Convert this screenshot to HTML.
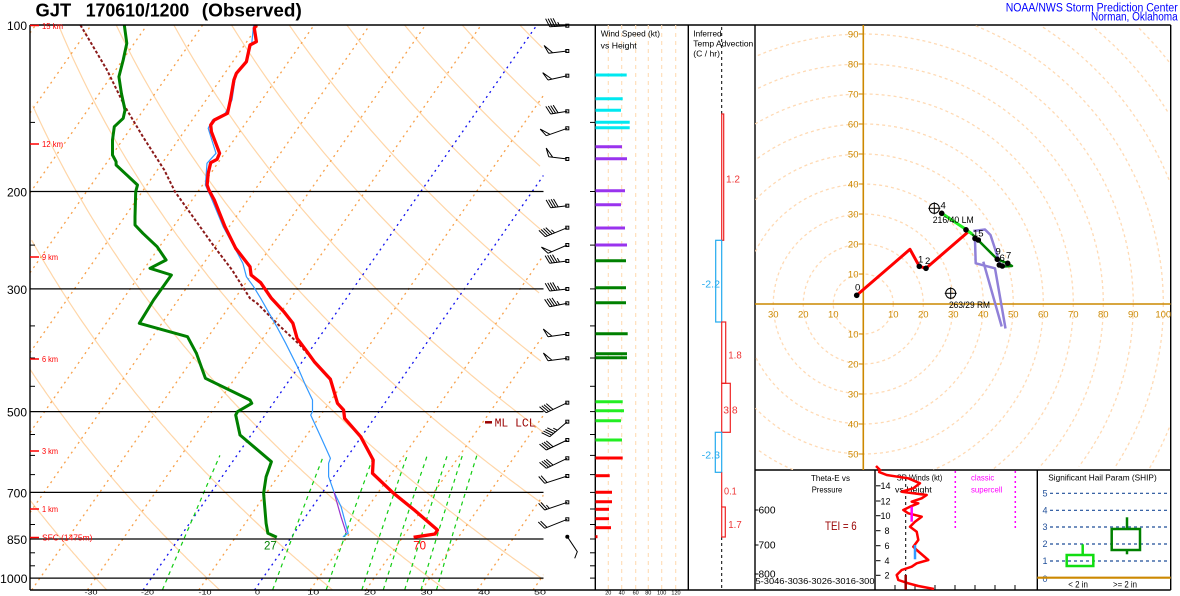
<!DOCTYPE html>
<html><head><meta charset="utf-8"><style>html,body{margin:0;padding:0;background:#fff;width:1180px;height:596px;overflow:hidden;}svg{display:block;overflow:hidden;}</style></head>
<body>
<svg id="s" width="1180" height="596" overflow="hidden" xmlns="http://www.w3.org/2000/svg" font-family="Liberation Sans, Arial, sans-serif">
<defs>
<clipPath id="cs"><rect x="30" y="25" width="513.5" height="565"/></clipPath>
<clipPath id="ch"><rect x="755" y="25" width="415.7" height="445"/></clipPath>
<clipPath id="csr"><rect x="875" y="470" width="162.3" height="120"/></clipPath>
</defs>
<rect width="1180" height="596" fill="#fff"/>

<!-- Skew-T background -->
<g clip-path="url(#cs)">
 <g id="adi" fill="none" stroke="#ffd6a8" stroke-width="1.2"></g>
 <g fill="none" stroke="#f7a04a" stroke-width="1.3" stroke-dasharray="2,4">
  <line x1="30" y1="33" x2="35.6" y2="25"/>
  <line x1="30" y1="113" x2="91.3" y2="25"/>
  <line x1="30" y1="192.9" x2="147" y2="25"/>
  <line x1="30" y1="272.8" x2="202.7" y2="25"/>
  <line x1="30" y1="352.7" x2="258.4" y2="25"/>
  <line x1="30" y1="432.6" x2="314.1" y2="25"/>
  <line x1="30" y1="512.5" x2="369.8" y2="25"/>
  <line x1="31.7" y1="590" x2="425.5" y2="25"/>
  <line x1="87.4" y1="590" x2="481.2" y2="25"/>
  <line x1="198.8" y1="590" x2="543.5" y2="95.4"/>
  <line x1="310.2" y1="590" x2="543.5" y2="255.3"/>
  <line x1="365.9" y1="590" x2="543.5" y2="335.2"/>
  <line x1="421.6" y1="590" x2="543.5" y2="415.1"/>
  <line x1="477.3" y1="590" x2="543.5" y2="495"/>
  <line x1="533" y1="590" x2="543.5" y2="574.9"/>
 </g>
 <g fill="none" stroke="#1010ee" stroke-width="1.3" stroke-dasharray="2,4">
  <line x1="143.1" y1="590" x2="536.9" y2="25"/>
  <line x1="254.5" y1="590" x2="543.5" y2="175.4"/>
 </g>
 <g id="mix" fill="none" stroke="#11cc11" stroke-width="1.2" stroke-dasharray="4,4"></g>

 <!-- pressure lines -->
 <g stroke="#000" stroke-width="1.2">
  <line x1="30" y1="191.5" x2="543.5" y2="191.5"/>
  <line x1="30" y1="288.9" x2="543.5" y2="288.9"/>
  <line x1="30" y1="411.6" x2="543.5" y2="411.6"/>
  <line x1="30" y1="492.4" x2="543.5" y2="492.4"/>
  <line x1="30" y1="539" x2="543.5" y2="539"/>
  <line x1="30" y1="578.1" x2="543.5" y2="578.1"/>
 </g>

 <!-- parcel -->
 <polyline fill="none" stroke="#8b1a1a" stroke-width="2" stroke-dasharray="3,2" points="80.4,25 107,70 125,106.7 142.9,136.7 164.3,170 175,191.7 192.9,216.7 214.3,246.7 232.1,270 250,298.3 257.1,303.3 278.6,325 300,345 314.3,361.7 328.6,378.3"/>
 <!-- wetbulb -->
 <polyline fill="none" stroke="#3399ff" stroke-width="1.2" points="253.6,25 251.8,43 246.4,61.7 235.7,75 232,100 224.3,115 212.5,120 208.2,128.3 216,153.3 207,163.3 205.4,185 210.7,196.7 223.2,226.7 234,246.7 242.9,263.3 246.4,276.7 253.6,286.7 260.7,298.3 276.8,326.7 285.7,343.3 298.2,368.3 305.4,385 312.5,400 312.5,411.7 310.7,415 321.4,438.3 330.4,458.3 328.6,463.3 328.6,476.7 333.9,491.7 341.1,506.7 348.2,533.3 342.9,536.7"/>
 <polyline fill="none" stroke="#9933cc" stroke-width="1.2" points="333.9,491.7 341,516.7 346.4,533.3"/>
 <!-- temperature -->
 <polyline fill="none" stroke="#ff0000" stroke-width="3.3" stroke-linejoin="round" points="256.4,25 254.3,28.3 256.4,41.7 250,45 246.4,61.7 236.4,73.3 233.9,80 230.4,100 227.5,113.3 214.3,120 210.7,125 211.4,131.7 219.6,153.3 217.1,159.3 210.7,162.7 208.2,173.3 207.1,185 208.9,190 214.3,200 225,226.7 235.7,248.3 250,266.7 251.1,275 260.7,282.7 271.4,298.3 283.9,311.7 292.9,323.3 297.1,338.3 307.1,351.7 314.3,361.7 330.4,379.3 337.5,403.3 343.6,410 344.6,418.3 360.7,436.7 373.2,460 372.5,473.3 392.9,492.7 414.3,510 437.5,530 435,534 413.6,537.3"/>
 <!-- dewpoint -->
 <polyline fill="none" stroke="#008000" stroke-width="3" stroke-linejoin="round" points="124.3,25 126.8,43.3 123.2,60 118.9,76.7 121.4,93.3 125,110 123.2,118.3 114.3,126.7 112.5,140 112.5,155 116.1,161.7 116.1,165 137.5,185 135.7,191.7 135,216.7 135,225 142.9,233.3 157.1,246.7 166.1,260 150,268.3 171.4,275 153.6,300 139.3,323.3 187.5,336.7 196.4,353.3 205.4,378.3 250,400 251.8,403.3 237.5,411.7 235.7,415 240,435 271.4,461.7 266.1,476.7 263.6,493.3 266.1,523.3 267.9,533.3 276.8,537.3"/>
</g>

<!-- frame lines -->
<g stroke="#000" stroke-width="1.4">
 <line x1="30" y1="25" x2="1170.7" y2="25"/>
 <line x1="30" y1="25" x2="30" y2="590"/>
 <line x1="30" y1="590" x2="1170.7" y2="590"/>
 <line x1="595.3" y1="25" x2="595.3" y2="590"/>
 <line x1="688.3" y1="25" x2="688.3" y2="590"/>
 <line x1="755" y1="25" x2="755" y2="590"/>
 <line x1="1170.7" y1="25" x2="1170.7" y2="590"/>
 <line x1="755" y1="470" x2="1170.7" y2="470"/>
 <line x1="875" y1="470" x2="875" y2="590"/>
 <line x1="1037.3" y1="470" x2="1037.3" y2="590"/>
</g>

<!-- left axis ticks -->
<g stroke="#000" stroke-width="1">
 <line x1="30" y1="122.4" x2="35" y2="122.4"/><line x1="30" y1="245.1" x2="35" y2="245.1"/>
 <line x1="30" y1="325.9" x2="35" y2="325.9"/><line x1="30" y1="358" x2="35" y2="358"/>
 <line x1="30" y1="386.3" x2="35" y2="386.3"/><line x1="30" y1="434.5" x2="35" y2="434.5"/>
 <line x1="30" y1="455.4" x2="35" y2="455.4"/><line x1="30" y1="474.6" x2="35" y2="474.6"/>
 <line x1="30" y1="509" x2="35" y2="509"/><line x1="30" y1="524.5" x2="35" y2="524.5"/>
 <line x1="30" y1="552.8" x2="35" y2="552.8"/><line x1="30" y1="565.8" x2="35" y2="565.8"/>
</g>
<!-- wind panel ticks -->
<g stroke="#000" stroke-width="1">
 <line x1="590" y1="122.4" x2="595" y2="122.4"/><line x1="590" y1="191.5" x2="595" y2="191.5"/>
 <line x1="590" y1="245.1" x2="595" y2="245.1"/><line x1="590" y1="288.9" x2="595" y2="288.9"/>
 <line x1="590" y1="325.9" x2="595" y2="325.9"/><line x1="590" y1="358" x2="595" y2="358"/>
 <line x1="590" y1="386.3" x2="595" y2="386.3"/><line x1="590" y1="411.6" x2="595" y2="411.6"/>
 <line x1="590" y1="434.5" x2="595" y2="434.5"/><line x1="590" y1="455.4" x2="595" y2="455.4"/>
 <line x1="590" y1="474.6" x2="595" y2="474.6"/><line x1="590" y1="492.4" x2="595" y2="492.4"/>
 <line x1="590" y1="509" x2="595" y2="509"/><line x1="590" y1="524.5" x2="595" y2="524.5"/>
 <line x1="590" y1="539" x2="595" y2="539"/><line x1="590" y1="552.8" x2="595" y2="552.8"/>
 <line x1="590" y1="565.8" x2="595" y2="565.8"/><line x1="590" y1="578.1" x2="595" y2="578.1"/>
</g>

<!-- km labels -->
<g stroke="#ff0000" stroke-width="1.5">
 <line x1="30" y1="25.5" x2="39" y2="25.5"/><line x1="30" y1="144" x2="39" y2="144"/>
 <line x1="30" y1="257" x2="39" y2="257"/><line x1="30" y1="359" x2="39" y2="359"/>
 <line x1="30" y1="451" x2="39" y2="451"/><line x1="30" y1="509" x2="39" y2="509"/>
 <line x1="30" y1="537.5" x2="39" y2="537.5"/>
</g>
<g fill="#ff0000" font-size="8.5">
 <text x="42" y="29" textLength="21" lengthAdjust="spacingAndGlyphs">15 km</text>
 <text x="42" y="147" textLength="21" lengthAdjust="spacingAndGlyphs">12 km</text>
 <text x="42" y="260" textLength="16" lengthAdjust="spacingAndGlyphs">9 km</text>
 <text x="42" y="362" textLength="16" lengthAdjust="spacingAndGlyphs">6 km</text>
 <text x="42" y="454" textLength="16" lengthAdjust="spacingAndGlyphs">3 km</text>
 <text x="42" y="512" textLength="16" lengthAdjust="spacingAndGlyphs">1 km</text>
 <text x="42" y="540.5" textLength="50.4" lengthAdjust="spacingAndGlyphs">SFC (1475m)</text>
</g>

<!-- pressure labels -->
<g fill="#000" font-size="12">
 <text x="7" y="30" textLength="20" lengthAdjust="spacingAndGlyphs">100</text>
 <text x="7" y="196.5" textLength="20" lengthAdjust="spacingAndGlyphs">200</text>
 <text x="7" y="294" textLength="20" lengthAdjust="spacingAndGlyphs">300</text>
 <text x="7" y="416.6" textLength="20" lengthAdjust="spacingAndGlyphs">500</text>
 <text x="7" y="497.4" textLength="20" lengthAdjust="spacingAndGlyphs">700</text>
 <text x="7" y="544" textLength="20" lengthAdjust="spacingAndGlyphs">850</text>
 <text x="0" y="583" textLength="27.5" lengthAdjust="spacingAndGlyphs">1000</text>
</g>
<!-- temperature axis labels (cut at bottom edge) -->
<g fill="#000" font-size="6" text-anchor="middle">
 <text x="91" y="594.6" textLength="13" lengthAdjust="spacingAndGlyphs">-30</text>
 <text x="147.5" y="594.6" textLength="13" lengthAdjust="spacingAndGlyphs">-20</text>
 <text x="205" y="594.6" textLength="13" lengthAdjust="spacingAndGlyphs">-10</text>
 <text x="257.5" y="594.6" textLength="5" lengthAdjust="spacingAndGlyphs">0</text>
 <text x="313.3" y="594.6" textLength="12" lengthAdjust="spacingAndGlyphs">10</text>
 <text x="370" y="594.6" textLength="12" lengthAdjust="spacingAndGlyphs">20</text>
 <text x="426.7" y="594.6" textLength="12" lengthAdjust="spacingAndGlyphs">30</text>
 <text x="484" y="594.6" textLength="12" lengthAdjust="spacingAndGlyphs">40</text>
 <text x="540" y="594.6" textLength="12" lengthAdjust="spacingAndGlyphs">50</text>
</g>

<!-- title -->
<g font-size="18.5" font-weight="bold" fill="#000">
 <text x="35.5" y="16.7" textLength="35.7" lengthAdjust="spacingAndGlyphs">GJT</text>
 <text x="85.7" y="16.7" textLength="103.6" lengthAdjust="spacingAndGlyphs">170610/1200</text>
 <text x="201.8" y="16.7" textLength="100" lengthAdjust="spacingAndGlyphs">(Observed)</text>
</g>
<g font-size="11.5" fill="#0000ff">
 <text x="1005.7" y="11.7" textLength="172" lengthAdjust="spacingAndGlyphs">NOAA/NWS Storm Prediction Center</text>
 <text x="1091" y="20.7" textLength="86.7" lengthAdjust="spacingAndGlyphs">Norman, Oklahoma</text>
</g>

<!-- labels on skewT -->
<text x="270.4" y="549.3" font-size="11.5" fill="#008000" text-anchor="middle">27</text>
<text x="419.6" y="549.3" font-size="11.5" fill="#ff0000" text-anchor="middle">70</text>
<line x1="485" y1="422.3" x2="492" y2="422.3" stroke="#990000" stroke-width="2.5"/>
<text x="494.6" y="426.3" font-family="Liberation Mono, monospace" font-size="11.5" fill="#990000" textLength="41" lengthAdjust="spacingAndGlyphs">ML LCL</text>

<!-- wind barbs -->
<g id="barbs" fill="none" stroke="#000" stroke-width="1"></g>
<circle cx="567.3" cy="536.7" r="2" fill="#000"/>
<polyline fill="none" stroke="#000" stroke-width="1" points="567.3,536.7 577.3,551.7 574.7,558.3"/>

<!-- wind speed panel -->
<g stroke="#ffdcb4" stroke-width="1.1" stroke-dasharray="4,4">
 <line x1="608.3" y1="25" x2="608.3" y2="590"/><line x1="621.7" y1="25" x2="621.7" y2="590"/>
 <line x1="635.7" y1="25" x2="635.7" y2="590"/><line x1="648.3" y1="25" x2="648.3" y2="590"/>
 <line x1="661.7" y1="25" x2="661.7" y2="590"/><line x1="675.7" y1="25" x2="675.7" y2="590"/>
</g>
<g font-size="8.5" fill="#000">
 <text x="600.7" y="36.7" textLength="59.3" lengthAdjust="spacingAndGlyphs">Wind Speed (kt)</text>
 <text x="600.7" y="48.3" textLength="36" lengthAdjust="spacingAndGlyphs">vs Height</text>
 <text x="693.3" y="36.7" textLength="28.3" lengthAdjust="spacingAndGlyphs">Inferred</text>
 <text x="693.3" y="46.7" textLength="60" lengthAdjust="spacingAndGlyphs">Temp Advection</text>
 <text x="693.3" y="56.7" textLength="26.7" lengthAdjust="spacingAndGlyphs">(C / hr)</text>
</g>
<g font-size="5.5" fill="#000" text-anchor="middle">
 <text x="608.3" y="594.6">20</text><text x="621.7" y="594.6">40</text><text x="635.7" y="594.6">60</text>
 <text x="648.3" y="594.6">80</text><text x="661.7" y="594.6">100</text><text x="676" y="594.6">120</text>
</g>
<g stroke-width="3" stroke-linecap="butt">
 <g stroke="#00e8f0">
  <line x1="595.5" y1="75" x2="626.7" y2="75"/><line x1="595.5" y1="98.7" x2="622.7" y2="98.7"/>
  <line x1="595.5" y1="110.3" x2="621" y2="110.3"/><line x1="595.5" y1="122.3" x2="629.7" y2="122.3"/>
  <line x1="595.5" y1="127.7" x2="629.7" y2="127.7"/>
 </g>
 <g stroke="#9933ee">
  <line x1="595.5" y1="146.7" x2="622" y2="146.7"/><line x1="595.5" y1="158.7" x2="627" y2="158.7"/>
  <line x1="595.5" y1="190.7" x2="625" y2="190.7"/><line x1="595.5" y1="204.7" x2="621" y2="204.7"/>
  <line x1="595.5" y1="228" x2="625" y2="228"/><line x1="595.5" y1="245" x2="627" y2="245"/>
 </g>
 <g stroke="#008000">
  <line x1="595.5" y1="260.7" x2="626" y2="260.7"/><line x1="595.5" y1="287.7" x2="626" y2="287.7"/>
  <line x1="595.5" y1="302.7" x2="626" y2="302.7"/><line x1="595.5" y1="333.7" x2="627.7" y2="333.7"/>
  <line x1="595.5" y1="353.7" x2="627" y2="353.7"/><line x1="595.5" y1="357.7" x2="627" y2="357.7"/>
 </g>
 <g stroke="#22ee22">
  <line x1="595.5" y1="401.7" x2="622.7" y2="401.7"/><line x1="595.5" y1="410.7" x2="624" y2="410.7"/>
  <line x1="595.5" y1="420.7" x2="621" y2="420.7"/><line x1="595.5" y1="440" x2="622" y2="440"/>
 </g>
 <g stroke="#ff0000">
  <line x1="595.5" y1="458" x2="622.7" y2="458"/><line x1="595.5" y1="475.7" x2="609.7" y2="475.7"/>
  <line x1="595.5" y1="492.3" x2="612" y2="492.3"/><line x1="595.5" y1="501.7" x2="612" y2="501.7"/>
  <line x1="595.5" y1="509.3" x2="609" y2="509.3"/><line x1="595.5" y1="518.7" x2="609" y2="518.7"/>
  <line x1="595.5" y1="527.7" x2="611" y2="527.7"/><line x1="595.5" y1="536.7" x2="597.5" y2="536.7"/>
 </g>
</g>

<!-- temp advection -->
<g stroke="#000" stroke-width="1" stroke-dasharray="3,3">
 <line x1="721.7" y1="27" x2="721.7" y2="114"/><line x1="721.7" y1="537" x2="721.7" y2="590"/>
</g>
<g fill="none" stroke-width="1.2">
 <rect x="721.7" y="114" width="2" height="126.3" stroke="#ee2222"/>
 <rect x="715.7" y="240.3" width="6" height="81.7" stroke="#22aaee"/>
 <rect x="721.7" y="322" width="4" height="61.3" stroke="#ee2222"/>
 <rect x="721.7" y="383.3" width="8.6" height="49" stroke="#ee2222"/>
 <rect x="715.3" y="432.3" width="6.4" height="40" stroke="#22aaee"/>
 <line x1="721.7" y1="472.3" x2="721.7" y2="507" stroke="#ee2222"/>
 <rect x="721.7" y="507" width="3.6" height="30" stroke="#ee2222"/>
</g>
<g font-size="10.5">
 <text x="726" y="182.7" fill="#ee3333" textLength="14" lengthAdjust="spacingAndGlyphs">1.2</text>
 <text x="701.7" y="287.3" fill="#22aaee" textLength="18.3" lengthAdjust="spacingAndGlyphs">-2.2</text>
 <text x="728.3" y="358.3" fill="#ee3333" textLength="13.4" lengthAdjust="spacingAndGlyphs">1.8</text>
 <text x="723.3" y="413.3" fill="#ee3333" textLength="14.4" lengthAdjust="spacingAndGlyphs">3.8</text>
 <text x="701.7" y="458.7" fill="#22aaee" textLength="18.3" lengthAdjust="spacingAndGlyphs">-2.3</text>
 <text x="724" y="494.7" fill="#ee3333" textLength="12.7" lengthAdjust="spacingAndGlyphs">0.1</text>
 <text x="728.3" y="528" fill="#ee3333" textLength="13.4" lengthAdjust="spacingAndGlyphs">1.7</text>
</g>

<!-- hodograph -->
<g clip-path="url(#ch)">
 <g id="rings" fill="none" stroke="#ffdab4" stroke-width="1.3" stroke-dasharray="3,3"></g>
 <g stroke="#cc8800" stroke-width="1.6">
  <line x1="863.3" y1="25" x2="863.3" y2="470"/>
  <line x1="755" y1="304" x2="1170.7" y2="304"/>
 </g>
 <g stroke="#cc8800" stroke-width="1">
  <line x1="859" y1="34" x2="863" y2="34"/><line x1="859" y1="64" x2="863" y2="64"/><line x1="859" y1="94" x2="863" y2="94"/>
  <line x1="859" y1="124" x2="863" y2="124"/><line x1="859" y1="154" x2="863" y2="154"/><line x1="859" y1="184" x2="863" y2="184"/>
  <line x1="859" y1="214" x2="863" y2="214"/><line x1="859" y1="244" x2="863" y2="244"/><line x1="859" y1="274" x2="863" y2="274"/>
  <line x1="859" y1="334" x2="863" y2="334"/><line x1="859" y1="364" x2="863" y2="364"/><line x1="859" y1="394" x2="863" y2="394"/>
  <line x1="859" y1="424" x2="863" y2="424"/><line x1="859" y1="454" x2="863" y2="454"/>
 </g>
 <g fill="#cc8800" font-size="9.5" text-anchor="end">
  <text x="858.5" y="37.3">90</text><text x="858.5" y="67.3">80</text><text x="858.5" y="97.3">70</text>
  <text x="858.5" y="127.3">60</text><text x="858.5" y="157.3">50</text><text x="858.5" y="187.3">40</text>
  <text x="858.5" y="217.3">30</text><text x="858.5" y="247.3">20</text><text x="858.5" y="277.3">10</text>
  <text x="858.5" y="337.3">10</text><text x="858.5" y="367.3">20</text><text x="858.5" y="397.3">30</text>
  <text x="858.5" y="427.3">40</text><text x="858.5" y="457.3">50</text>
 </g>
 <g fill="#cc8800" font-size="9.5" text-anchor="middle">
  <text x="773.3" y="317.5">30</text><text x="803.3" y="317.5">20</text><text x="833.3" y="317.5">10</text>
  <text x="893.3" y="317.5">10</text><text x="923.3" y="317.5">20</text><text x="953.3" y="317.5">30</text>
  <text x="983.3" y="317.5">40</text><text x="1013.3" y="317.5">50</text><text x="1043.3" y="317.5">60</text>
  <text x="1073.3" y="317.5">70</text><text x="1103.3" y="317.5">80</text><text x="1133.3" y="317.5">90</text>
  <text x="1163.3" y="317.5">100</text>
 </g>
 <!-- traces -->
 <g fill="none" stroke-linejoin="round">
  <path d="M973.3,231 L985,229.5 L990.5,235 L1000,264 M975,240 L975.7,263.3 L995,268.3 L1005.5,328.5 M1001.7,326.5 L983.3,261.7" stroke="#9080d8" stroke-width="2.5"/>
  <polyline points="856.7,295.3 910,249.3 919.3,266.3 926,268.3 968.3,231.7 966,229.8" stroke="#ff0000" stroke-width="3"/>
  <polyline points="941.7,213.3 965.7,229.3 972,234" stroke="#22ee22" stroke-width="3"/>
  <polyline points="972,234 997.3,259.3 1007.7,263.3 1012,266 1003,266.5" stroke="#008000" stroke-width="2.5"/>
 </g>
 <g fill="#000">
  <circle cx="856.7" cy="295.3" r="2.8"/><circle cx="919.3" cy="266.3" r="2.8"/><circle cx="926" cy="268.3" r="2.8"/>
  <circle cx="966" cy="229.8" r="2.8"/><circle cx="941.7" cy="213.3" r="2.8"/><circle cx="975" cy="238.5" r="2.8"/>
  <circle cx="978.3" cy="240" r="2.8"/><circle cx="997.3" cy="259.3" r="2.8"/><circle cx="999.3" cy="265" r="2.8"/>
  <circle cx="1002.3" cy="266" r="2.8"/><circle cx="1007.7" cy="263.3" r="2.8"/>
 </g>
 <g fill="none" stroke="#000" stroke-width="1">
  <circle cx="934.3" cy="208.3" r="5"/><line x1="928.3" y1="208.3" x2="940.3" y2="208.3"/><line x1="934.3" y1="202.3" x2="934.3" y2="214.3"/>
  <circle cx="950.7" cy="293.3" r="5"/><line x1="944.7" y1="293.3" x2="956.7" y2="293.3"/><line x1="950.7" y1="287.3" x2="950.7" y2="299.3"/>
 </g>
 <g fill="#000" font-size="9.5">
  <text x="855" y="290.7">0</text><text x="918" y="262.3">1</text><text x="925" y="264">2</text>
  <text x="940.5" y="208.3">4</text><text x="973" y="236.5">15</text><text x="995.5" y="254.5">9</text>
  <text x="999.5" y="261">6</text><text x="1006" y="258.3">7</text>
  <text x="932.7" y="223" textLength="41" lengthAdjust="spacingAndGlyphs">216/40 LM</text>
  <text x="949" y="308" textLength="41" lengthAdjust="spacingAndGlyphs">263/29 RM</text>
 </g>
</g>

<!-- bottom panels: theta-E -->
<g font-size="8.5" fill="#000">
 <text x="811" y="481" textLength="39" lengthAdjust="spacingAndGlyphs">Theta-E vs</text>
 <text x="811.7" y="492.7" textLength="30.6" lengthAdjust="spacingAndGlyphs">Pressure</text>
</g>
<g stroke="#000" stroke-width="1">
 <line x1="755" y1="510" x2="758.5" y2="510"/><line x1="755" y1="545" x2="758.5" y2="545"/><line x1="755" y1="574" x2="758.5" y2="574"/>
</g>
<g font-size="10" fill="#000">
 <text x="758.5" y="513.3" textLength="17" lengthAdjust="spacingAndGlyphs">600</text>
 <text x="758.5" y="548.3" textLength="17" lengthAdjust="spacingAndGlyphs">700</text>
 <text x="758.5" y="577.3" textLength="17" lengthAdjust="spacingAndGlyphs">800</text>
 <text x="755.5" y="584" font-size="8.5" textLength="119" lengthAdjust="spacingAndGlyphs">5-3046-3036-3026-3016-300</text>
</g>
<text x="825" y="530" font-size="11.5" fill="#990000" textLength="31.7" lengthAdjust="spacingAndGlyphs">TEI = 6</text>

<!-- SR winds -->
<g stroke="#ff00ff" stroke-width="1.5" stroke-dasharray="2,3">
 <line x1="955.3" y1="471" x2="955.3" y2="530"/><line x1="1015.3" y1="471" x2="1015.3" y2="530"/>
</g>
<line x1="905.7" y1="478" x2="905.7" y2="590" stroke="#000" stroke-width="1" stroke-dasharray="3,3"/>
<g font-size="8.5" fill="#000">
 <text x="896.7" y="480.7" textLength="45.6" lengthAdjust="spacingAndGlyphs">SR Winds (kt)</text>
 <text x="895" y="492.7" textLength="36.7" lengthAdjust="spacingAndGlyphs">vs Height</text>
</g>
<g font-size="8.5" fill="#ff00ff">
 <text x="971" y="480.7" textLength="23.3" lengthAdjust="spacingAndGlyphs">classic</text>
 <text x="971" y="492.7" textLength="31.3" lengthAdjust="spacingAndGlyphs">supercell</text>
</g>
<g stroke="#000" stroke-width="1">
 <line x1="876" y1="485.8" x2="880.5" y2="485.8"/><line x1="876" y1="501" x2="880.5" y2="501"/>
 <line x1="876" y1="515.7" x2="880.5" y2="515.7"/><line x1="876" y1="530.7" x2="880.5" y2="530.7"/>
 <line x1="876" y1="545.7" x2="880.5" y2="545.7"/><line x1="876" y1="560.7" x2="880.5" y2="560.7"/>
 <line x1="876" y1="575.3" x2="880.5" y2="575.3"/>
 <line x1="895" y1="585" x2="895" y2="590"/><line x1="915" y1="585" x2="915" y2="590"/>
 <line x1="935" y1="585" x2="935" y2="590"/><line x1="955" y1="585" x2="955" y2="590"/>
 <line x1="975" y1="585" x2="975" y2="590"/><line x1="995" y1="585" x2="995" y2="590"/>
 <line x1="1015" y1="585" x2="1015" y2="590"/>
</g>
<g font-size="9" fill="#000" text-anchor="end">
 <text x="890.5" y="489">14</text><text x="890.5" y="504.3">12</text><text x="890.5" y="519">10</text>
 <text x="889.5" y="534">8</text><text x="889.5" y="549">6</text><text x="889.5" y="564">4</text><text x="889.5" y="578.6">2</text>
</g>
<g clip-path="url(#csr)">
 <polyline fill="none" stroke="#ff0000" stroke-width="2.5" stroke-linejoin="round" points="878.3,471.7 886.7,475 908.3,478.3 920,483.3 913.3,488.3 901.7,491.7 926.7,495 921.7,498.3 911.7,501.7 918.3,503.3 910,506.7 903.3,510 908.3,513.3 921.7,516.7 915,521.7 910,526.7 916.7,531.7 918.3,540 913.3,546.7 916.7,550 928.3,560 916.7,563.3 911.7,566.7 901.7,570 896.7,575 898.3,580 908.3,583.3 918.3,586 934,589"/>
</g>
<g stroke-width="2.5">
 <line x1="911.7" y1="506.7" x2="911.7" y2="521.7" stroke="#ff00ff"/>
 <line x1="915" y1="545" x2="915" y2="559.3" stroke="#3399ff"/>
 <line x1="905.7" y1="575" x2="905.7" y2="589.5" stroke="#990000"/>
</g>
<polyline fill="none" stroke="#ff0000" stroke-width="2.5" points="876,466 880,470 878.3,471.7"/>

<!-- SHIP -->
<text x="1048.3" y="480.7" font-size="8.5" fill="#000" textLength="108.4" lengthAdjust="spacingAndGlyphs">Significant Hail Param (SHIP)</text>
<g stroke="#1f4e99" stroke-width="1.2" stroke-dasharray="3,3">
 <line x1="1050" y1="493.3" x2="1170" y2="493.3"/><line x1="1050" y1="510.3" x2="1170" y2="510.3"/>
 <line x1="1050" y1="527" x2="1170" y2="527"/><line x1="1050" y1="544" x2="1170" y2="544"/>
 <line x1="1050" y1="561" x2="1170" y2="561"/>
</g>
<g font-size="9" fill="#1f4e99" text-anchor="middle">
 <text x="1045" y="496.5">5</text><text x="1045" y="513.5">4</text><text x="1045" y="530.2">3</text>
 <text x="1045" y="547.2">2</text><text x="1045" y="564.2">1</text><text x="1045" y="582">0</text>
</g>
<line x1="1037.3" y1="577.7" x2="1170.7" y2="577.7" stroke="#cc8800" stroke-width="2.2"/>
<g fill="none" stroke-width="2.5">
 <rect x="1066.7" y="555" width="26.6" height="11" stroke="#11dd11"/>
 <line x1="1082.7" y1="544.3" x2="1082.7" y2="555" stroke="#11dd11"/>
 <rect x="1111.7" y="529" width="28.3" height="21" stroke="#008000"/>
 <line x1="1127" y1="517.3" x2="1127" y2="529" stroke="#008000"/>
 <line x1="1127" y1="550" x2="1127" y2="554.3" stroke="#008000"/>
</g>
<g font-size="9" fill="#000">
 <text x="1068.3" y="587.7" textLength="19.7" lengthAdjust="spacingAndGlyphs">&lt; 2 in</text>
 <text x="1113" y="587.7" textLength="24" lengthAdjust="spacingAndGlyphs">&gt;= 2 in</text>
</g>
</svg>
<script>
(function(){
var NS="http://www.w3.org/2000/svg";
function Y(p){return 25+240.2*Math.log(p/100);}
function X(T,y){return 254.5+5.57*T+0.697*(590-y);}
function pl(g,pts){var e=document.createElementNS(NS,'polyline');e.setAttribute('points',pts.map(function(p){return p[0].toFixed(1)+','+p[1].toFixed(1);}).join(' '));g.appendChild(e);}
function inSkew(x,y){return x>=30&&x<=543.5&&y>=25&&y<=590;}
function addClipped(g,pts,test){var seg=[];for(var i=0;i<pts.length;i++){if(test(pts[i][0],pts[i][1])){seg.push(pts[i]);}else{if(seg.length>1)pl(g,seg);seg=[];}}if(seg.length>1)pl(g,seg);}
var ga=document.getElementById('adi');
for(var th=-30;th<=210;th+=20){var pts=[];for(var p=1050;p>=100;p-=5){var T=(th+273.15)*Math.pow(p/1000,0.286)-273.15;var y=Y(p);pts.push([X(T,y),y]);}addClipped(ga,pts,inSkew);}
var gm=document.getElementById('mix');
[1,4.6,8.9,13.5,17.2,21.8,26,30.7].forEach(function(w){var pts=[];for(var p=1050;p>=600;p-=10){var e=w*p/(622+w);var l=Math.log(e/6.112);var T=243.5*l/(17.67-l);var y=Y(p);pts.push([X(T,y),y]);}addClipped(gm,pts,inSkew);});
var gr=document.getElementById('rings');
function inHodo(x,y){return x>=755&&x<=1170.7&&y>=25&&y<=470;}
for(var r=30;r<=420;r+=30){var pts=[];for(var dg=0;dg<=360;dg+=1){var t=dg*Math.PI/180;pts.push([863.3+r*Math.cos(t),304+r*Math.sin(t)]);}addClipped(gr,pts,inHodo);}
var gb=document.getElementById('barbs');
var B=[[25.7,549.7,26.7,45],[51,548.7,53.3,50],[75.7,548,80,50],[111.3,550.7,114,40],[128.3,546.3,135.7,50],[159,548.7,156.7,50],[205.7,550.7,207.7,40],[227.7,545.3,236.7,45],[245,548,253.3,50],[261,549.7,263.3,45],[289,549.7,291,45],[303.3,549.7,306.7,45],[334,548,336.7,50],[358.3,548,360.7,50],[402.7,546.3,412.7,40],[421.7,549.7,436.7,45],[440,546.3,450,40],[458.3,546.3,468.3,40],[476,544.7,483.3,20],[502.3,544.7,510,25],[519.3,544.7,528.3,20]];
var a=66.5*Math.PI/180,ca=Math.cos(a),sa=Math.sin(a);
B.forEach(function(b){var cx=567.3,cy=b[0],tx=b[1],ty=b[2],s=b[3];var dx=tx-cx,dy=ty-cy;var L=Math.sqrt(dx*dx+dy*dy);dx/=L;dy/=L;
var bx=(dx*ca-dy*sa)*9,by=(dx*sa+dy*ca)*9;
var d='M'+cx+','+cy+'L'+tx+','+ty;var pos=0,r=s;
while(r>=50){var px=tx-dx*pos,py=ty-dy*pos;d+='M'+px.toFixed(1)+','+py.toFixed(1)+'L'+(px+bx).toFixed(1)+','+(py+by).toFixed(1)+'L'+(px-dx*4).toFixed(1)+','+(py-dy*4).toFixed(1);pos+=5;r-=50;}
while(r>=10){var px=tx-dx*pos,py=ty-dy*pos;d+='M'+px.toFixed(1)+','+py.toFixed(1)+'l'+bx.toFixed(1)+','+by.toFixed(1);pos+=2.5;r-=10;}
if(r>=5){if(pos==0)pos=2.5;var px=tx-dx*pos,py=ty-dy*pos;d+='M'+px.toFixed(1)+','+py.toFixed(1)+'l'+(bx/2).toFixed(1)+','+(by/2).toFixed(1);}
var e=document.createElementNS(NS,'path');e.setAttribute('d',d);gb.appendChild(e);
var r2=document.createElementNS(NS,'rect');r2.setAttribute('x',cx-1.5);r2.setAttribute('y',cy-1.5);r2.setAttribute('width',3);r2.setAttribute('height',3);gb.appendChild(r2);});
})();
</script>
</body></html>
